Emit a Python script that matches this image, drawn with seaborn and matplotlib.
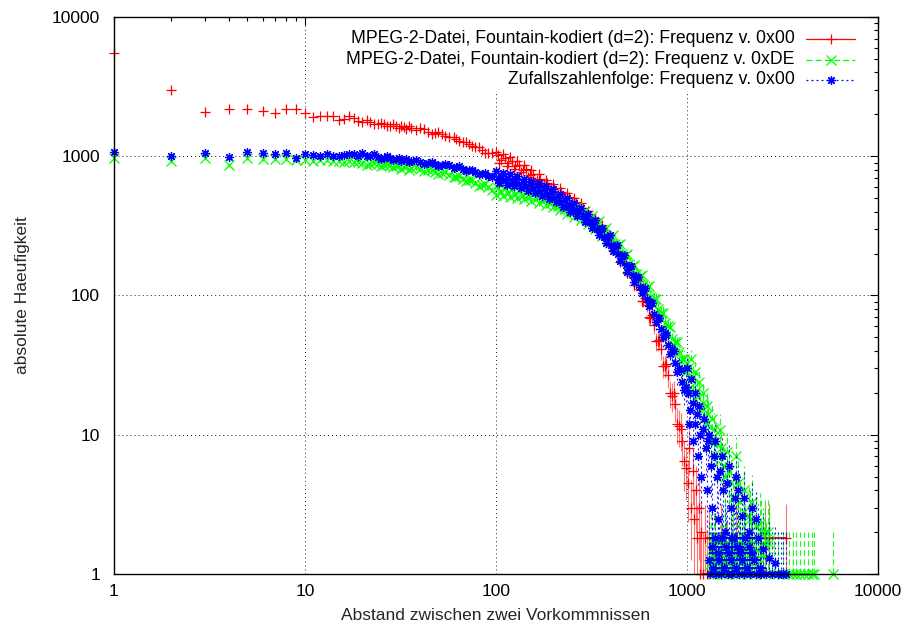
import numpy as np
import pandas as pd
import seaborn as sns
import matplotlib
matplotlib.use("Agg")
import matplotlib.pyplot as plt
from matplotlib.patches import Rectangle
from matplotlib.lines import Line2D

# x positions (Abstand): single distances, then the dense parts (interleaved grids)
x_head = list(range(1, 21)) + [22, 24, 26, 28, 30, 33, 36, 40, 44, 48, 52, 57, 62, 67, 72, 78, 84, 91]
x_head2 = [21, 23, 25, 27, 29, 31, 32, 34, 35, 38, 42, 46, 50, 54, 60, 64, 70, 75, 81, 88, 95]
x_mid = [100, 104, 109, 114, 119, 124, 129, 135, 141, 147, 153, 160, 167, 174, 182, 190, 198,
         207, 216, 225, 235, 245, 256, 267, 279, 291, 304, 317, 331, 346, 361, 377, 393, 410,
         428, 447, 467, 487, 508, 530, 554, 578, 603, 630, 657, 686, 716, 748, 781, 815, 851,
         888, 927, 968]
x_mid2 = [102, 106, 111, 116, 121, 126, 132, 138, 144, 150, 156, 163, 170, 178, 186, 194, 202,
          211, 220, 230, 240, 250, 261, 273, 285, 297, 310, 324, 338, 353, 369, 385, 401, 419,
          437, 457, 477, 497, 519, 542, 566, 590, 616, 643, 671, 701, 732, 764, 798, 833, 869,
          907, 947, 990]

# MPEG-2, fountain coded, frequency of 0x00
red_head = [5520, 2970, 2080, 2170, 2200, 2120, 2030, 2170, 2170, 2050, 1900, 1950, 1950, 1950,
            1815, 1860, 1950, 1880, 1800, 1770, 1760, 1700, 1690, 1660, 1640, 1610, 1590, 1600,
            1500, 1480, 1450, 1380, 1330, 1260, 1220, 1160, 1110, 1050]
red_head2 = [1820, 1710, 1740, 1640, 1700, 1600, 1660, 1570, 1640, 1540, 1560, 1450, 1500, 1400,
             1380, 1290, 1260, 1180, 1160, 1060, 1050]
red_mid = [1080, 900, 1030, 855, 980, 810, 930, 765, 870, 715, 800, 655, 740, 600, 680, 555, 630,
           520, 590, 485, 545, 445, 500, 410, 460, 370, 405, 325, 360, 290, 320, 252, 270, 212,
           228, 175, 186, 145, 157, 118, 126, 92, 96, 70, 72, 47, 48, 31, 32, 20, 20,
           12, 11, 6.5]
red_mid2 = [1020, 939, 971, 890, 920, 844, 870, 793, 814, 735, 747, 677, 690, 624, 637, 577, 592,
            538, 551, 500, 510, 461, 469, 422, 425, 376, 376, 335, 335, 296, 294, 255, 247, 213,
            206, 176, 170, 146, 142, 118, 111, 92, 85, 69, 61, 47, 41, 31, 27, 19, 16.5,
            11.6, 9, 5.8]
red_tail_x = [1010, 1030, 1050, 1070, 1090, 1110, 1130, 1150, 1170, 1190, 1210, 1240, 1270,
              1300, 1400, 1500, 1600, 1700, 1800, 2000, 2200, 2400, 2550, 2700, 3300]
red_tail = [4.5, 8, 3, 5.5, 2.5, 4, 1.8, 3, 1, 2, 1, 1.8, 1,
            1.82, 1, 1.82, 1.26, 1, 1.82, 1, 1.82, 1, 1.82, 1.82, 1.82]
red_lvl_y = [1.82, 1.0]
red_lvl_x0 = [1250, 1200]
red_lvl_x1 = [3300, 2500]

# MPEG-2, fountain coded, frequency of 0xDE
green_head = [965, 927, 965, 863, 965, 960, 950, 950, 945, 945, 930, 935, 940, 920, 925, 915,
              920, 905, 910, 900, 885, 880, 865, 860, 850, 835, 820, 810, 790, 775, 760, 735,
              715, 690, 670, 645, 620, 600]
green_head2 = [870, 900, 850, 880, 830, 860, 815, 845, 800, 830, 780, 800, 745, 770, 705, 720,
               660, 680, 615, 630, 575]
green_mid = [528, 629, 520, 618, 511, 607, 501, 594, 490, 581, 479, 565, 464, 547, 449, 528, 431,
             504, 410, 477, 387, 449, 369, 431, 348, 403, 324, 373, 298, 340, 269, 305, 240, 270,
             211, 234, 180, 197, 151, 166, 127, 140, 107, 116, 87, 94, 70, 75, 56, 59, 44,
             46, 34, 35]
green_mid2 = [595, 557, 587, 547, 577, 537, 564, 526, 552, 514, 538, 499, 521, 483, 503, 465, 482,
              442, 457, 419, 431, 396, 412, 376, 387, 352, 359, 325, 330, 295, 297, 264, 264, 233,
              231, 200, 196, 169, 164, 142, 138, 119, 115, 98, 94, 80, 75, 63, 60, 49, 46,
              39, 35, 28]
green_tail_x = [1010, 1040, 1070, 1100, 1130, 1170, 1210, 1250, 1290, 1330, 1380, 1430, 1490,
                1550, 1620, 1700, 1800, 1900, 2000, 2100, 2200, 2300, 2450, 2550, 2650,
                1310, 1340, 1360, 1390, 1410, 1440, 1480, 1520, 1550, 1590, 1620, 1660, 1700,
                1740, 1780, 1820, 1870, 1910, 1960, 2010, 2060, 2110, 2170, 2230, 2290, 2350,
                2420, 2500, 2600, 2700, 2850, 3000, 3200, 3400, 3600, 3700, 3900, 4100, 4300,
                4500, 4600, 5800]
green_tail = [30, 22, 26, 18, 21, 15, 17, 12, 14, 9, 11, 7, 10.8,
              6, 7.5, 4.5, 7, 3.3, 4, 2.6, 3.3, 2.2, 2, 2, 2,
              1.16, 1.49, 1, 1.67, 1.32, 1, 1.16, 1.49, 1, 1.67, 1.32, 1, 1.16,
              1.49, 1, 1.67, 1.32, 1, 1.16, 1.49, 1, 1.67, 1.32, 1, 1.16, 1.49,
              1, 1.67, 1.32, 1.67, 1, 1, 1, 1, 1, 1, 1, 1, 1,
              1, 1, 1]
green_tail2_x = [1050, 1100, 1150, 1220, 1280, 1350, 1420, 1500, 1580, 1660, 1750, 1850, 2000,
                 2150, 2400]
green_tail2 = [35, 28, 24, 20, 16, 13, 9, 8, 5, 5.5, 3.5, 4.5, 2.8, 2.5, 2.3]
green_lvl_y = [1.67, 1.49, 1.32, 1.16]
green_lvl_x0 = [1310, 1310, 1310, 1310]
green_lvl_x1 = [2700, 2350, 2600, 2300]

# random sequence, frequency of 0x00
blue_head = [1075, 1000, 1058, 990, 1075, 1047, 1040, 1047, 965, 1040, 1018, 1000, 1040, 1005,
             1010, 1020, 1040, 1030, 1010, 1050, 1000, 990, 970, 975, 950, 940, 925, 915, 900,
             880, 870, 870, 830, 810, 790, 770, 745, 725]
blue_head2 = [1010, 1030, 960, 1000, 940, 975, 930, 955, 910, 935, 880, 905, 855, 880, 820, 845,
              780, 800, 740, 755, 705]
blue_mid = [780, 645, 760, 626, 740, 608, 717, 587, 689, 566, 667, 546, 640, 522, 610, 496, 578,
            466, 538, 434, 499, 400, 463, 371, 425, 339, 387, 306, 347, 271, 305, 238, 270, 209,
            231, 177, 194, 148, 164, 125, 135, 104, 113, 84, 88, 65, 69, 50, 52, 38, 40,
            28, 29, 21]
blue_mid2 = [691, 724, 672, 703, 653, 683, 632, 658, 608, 636, 588, 612, 564, 584, 536, 554, 505,
             518, 471, 482, 436, 446, 404, 411, 370, 375, 336, 337, 299, 298, 263, 263, 232, 228,
             198, 193, 166, 162, 140, 135, 115, 112, 95, 90, 74, 69, 57, 54, 44, 41, 33,
             30, 24, 22]
blue_tail_x = [1010, 1040, 1070, 1100, 1130, 1170, 1210, 1250, 1290, 1330, 1380, 1430, 1490,
               1550, 1620, 1700, 1780, 1840, 1950, 2100, 2200,
               1300, 1320, 1350, 1370, 1400, 1420, 1450, 1470, 1500, 1530, 1560, 1600, 1630,
               1660, 1700, 1730, 1760, 1800, 1830, 1870, 1900, 1940, 1980, 2020, 2060, 2100,
               2150, 2200, 2250, 2300, 2350, 2400, 2450, 2500, 2600, 2700, 2800, 2900, 3000,
               3100, 3200, 3300]
blue_tail = [20, 15, 17, 12, 14, 10, 11, 8, 9, 6, 7, 5, 5.5,
             4, 4.5, 3, 3.5, 4, 2.6, 2, 3,
             1.26, 1, 1.56, 1.1, 1.81, 1, 1.41, 1.26, 1, 1.81, 1.1, 1.56, 1,
             1.41, 1.26, 1, 1.81, 1.1, 1.56, 1, 1.41, 1.26, 1, 1.81, 1.1, 1.56,
             1, 1.41, 1.26, 1, 1.81, 1.1, 1, 1.5, 1, 1.3, 1, 1.2, 1,
             1, 1, 1]
blue_tail2_x = [1000, 1020, 1050, 1080, 1100, 1140, 1160, 1190, 1230, 1270, 1310, 1350, 1400,
                1450, 1520, 1580, 1650, 1720, 1800, 1900, 2000, 2300]
blue_tail2 = [30, 12, 25, 9, 20, 7, 16, 5, 13, 4, 10, 3, 9, 2.5, 7, 2, 6, 1.8, 5, 1.5, 3.5, 2.5]
blue_lvl_y = [1.81, 1.56, 1.41, 1.26, 1.10]
blue_lvl_x0 = [1300, 1300, 1300, 1300, 1300]
blue_lvl_x1 = [2400, 2000, 2300, 2450, 2600]

labels = ["MPEG-2-Datei, Fountain-kodiert (d=2): Frequenz v. 0x00",
          "MPEG-2-Datei, Fountain-kodiert (d=2): Frequenz v. 0xDE",
          "Zufallszahlenfolge: Frequenz v. 0x00"]

sns.set_theme(style="white")
plt.rcParams["font.family"] = ["Liberation Sans", "DejaVu Sans"]
plt.rcParams["lines.scale_dashes"] = False

fig = plt.figure(figsize=(9.06, 6.28), dpi=100)
ax = fig.add_axes([0.1258, 0.086, 0.8433, 0.887])
ax.set_xscale("log")
ax.set_yscale("log")

x_all = x_head + x_head2 + x_mid + x_mid2
series = [
    (x_all + red_tail_x, red_head + red_head2 + red_mid + red_mid2 + red_tail,
     red_lvl_y, red_lvl_x0, red_lvl_x1, "#ff0000", "-", "+", 0.55),
    (x_all + green_tail_x + green_tail2_x,
     green_head + green_head2 + green_mid + green_mid2 + green_tail + green_tail2,
     green_lvl_y, green_lvl_x0, green_lvl_x1, "#00ff00", (0, (4.3, 2.3)), "x", 0.9),
    (x_all + blue_tail_x + blue_tail2_x,
     blue_head + blue_head2 + blue_mid + blue_mid2 + blue_tail + blue_tail2,
     blue_lvl_y, blue_lvl_x0, blue_lvl_x1, "#0000ff", (0, (1.4, 2.2)), (8, 2, 0), 0.9),
]

for i, (xs, ys, ly, lx0, lx1, col, ls, mk, ba) in enumerate(series):
    z = 2 + i
    df = pd.DataFrame({"abstand": xs, "haeufigkeit": ys})
    # counting error of each frequency
    eb = ax.errorbar(df["abstand"], df["haeufigkeit"], yerr=np.sqrt(df["haeufigkeit"]),
                     fmt="none", ecolor=col, elinewidth=0.8, capsize=0, alpha=ba, zorder=z)
    eb[2][0].set_linestyle(ls)
    ax.hlines(ly, lx0, lx1, colors=col, linewidth=1.4, zorder=z)
    sns.lineplot(data=df, x="abstand", y="haeufigkeit", ax=ax, estimator=None, sort=False,
                 color=col, linestyle="none", marker=mk, markersize=6.5,
                 markeredgewidth=0.9, markeredgecolor=col, markerfacecolor="none",
                 clip_on=False, zorder=z)

ax.set_xlim(1, 10000)
ax.set_ylim(1, 10000)
ax.set_xticks([1, 10, 100, 1000, 10000])
ax.set_xticklabels(["1", "10", "100", "1000", "10000"])
ax.set_yticks([1, 10, 100, 1000, 10000])
ax.set_yticklabels(["1", "10", "100", "1000", "10000"])

ax.tick_params(which="both", direction="in", top=True, right=True, colors="black",
               labelsize=12.5, width=0.8)
ax.tick_params(which="major", length=6)
ax.tick_params(which="minor", length=3)
ax.tick_params(axis="y", pad=10)
ax.tick_params(axis="x", pad=7)
for s in ax.spines.values():
    s.set_color("black")
    s.set_linewidth(1.0)
    s.set_zorder(10)

ax.grid(True, which="major", color="black", linestyle=(0, (0.7, 2.2)), linewidth=0.6)
ax.set_axisbelow(True)

ax.set_xlabel("Abstand zwischen zwei Vorkommnissen", fontsize=12.5, labelpad=7)
ax.set_ylabel("absolute Haeufigkeit", fontsize=12.5, labelpad=16)

# key: opaque box, right-aligned text, sample to the right
ax.add_patch(Rectangle((0.29, 0.867), 0.70, 0.133, transform=ax.transAxes,
                       facecolor="white", edgecolor="none", zorder=1.5))
rows = [0.9605, 0.9228, 0.887]
for (xs, ys, ly, lx0, lx1, col, ls, mk, ba), lab, yy in zip(series, labels, rows):
    ax.text(0.891, yy, lab, transform=ax.transAxes, ha="right", va="center",
            fontsize=12.7, color="black", zorder=6)
    ax.add_line(Line2D([0.906, 0.970], [yy, yy], transform=ax.transAxes, color=col,
                       linestyle=ls, linewidth=0.9, zorder=6))
    ax.add_line(Line2D([0.938], [yy], transform=ax.transAxes, color=col, marker=mk,
                       markersize=6.5, markeredgewidth=0.9, markerfacecolor="none",
                       linestyle="none", zorder=6))

fig.savefig("out.png", dpi=100)
